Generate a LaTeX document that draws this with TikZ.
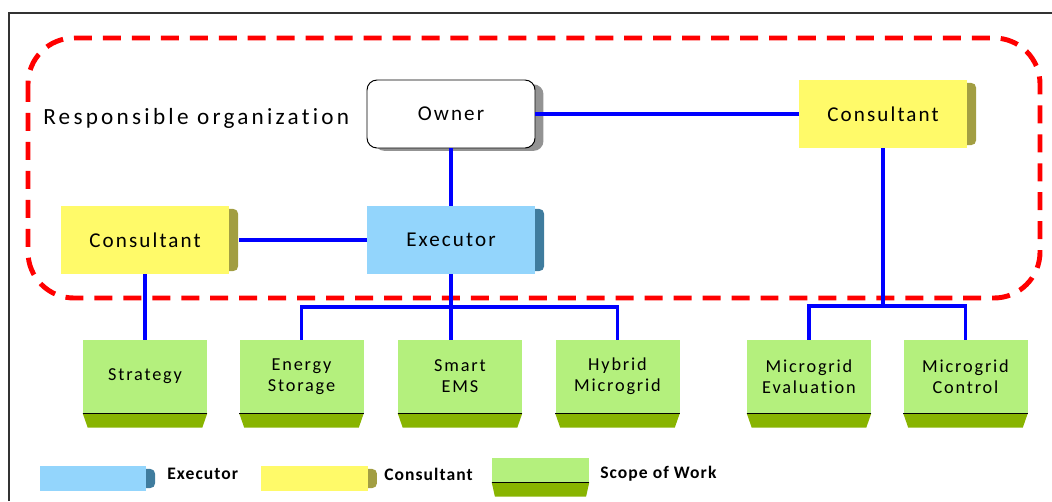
\documentclass[tikz,border=0pt]{standalone}
\usepackage{fontspec}
\setmainfont{Carlito}
\newfontfamily\widefont[LetterSpace=10, Ligatures=NoCommon]{Carlito}
\newfontfamily\titlefont[LetterSpace=14, Ligatures=NoCommon]{Carlito}
\newfontfamily\legfont[LetterSpace=6, Ligatures=NoCommon]{Carlito}
\usetikzlibrary{positioning, calc, backgrounds}
\definecolor{cexec}{HTML}{93D5FC}
\definecolor{cexecshade}{HTML}{3F7C9E}
\definecolor{ccons}{HTML}{FFFA69}
\definecolor{cconsshade}{HTML}{A29E42}
\definecolor{cwork}{HTML}{B4F07D}
\definecolor{cworkband}{HTML}{88B400}
\definecolor{cline}{HTML}{0000FF}
\definecolor{cred}{HTML}{FF0000}
\definecolor{cframe}{HTML}{333333}
\tikzset{
  orgbox/.style={fill=#1, minimum width=4.2cm, minimum height=1.7cm, inner sep=0pt, font=\widefont\fontsize{15}{18}\selectfont},
  orgbox/.default=white,
  workbox/.style={fill=cwork, minimum width=3.1cm, minimum height=1.825cm, inner sep=0pt, align=center, font=\widefont\fontsize{13}{15}\selectfont},
  link/.style={draw=cline, line width=2.8pt},
  legtext/.style={anchor=west, inner sep=0pt, font=\legfont\bfseries\fontsize{12.5}{14}\selectfont},
}

\begin{document}
\begin{tikzpicture}[zone/.style={cred, line width=3.5pt, dash pattern=on 12.8pt off 7.8pt, rounded corners=1.15cm}]
  \useasboundingbox (0,0) rectangle (26.3,-12.525);
  \draw[cframe, line width=1pt] (0.225,-12.525) -- (0.225,-0.325) -- (26.3,-0.325);
  % responsible organization
  \draw[zone] (0.7,-0.95) rectangle (26.0,-7.45);
  \node[anchor=west, inner sep=0pt, font=\titlefont\fontsize{16.5}{19}\selectfont] (resp) at (1.075,-2.95) {Responsible organization};
  \node[orgbox, draw=black, line width=0.7pt, rounded corners=0.25cm] (owner) at (11.275,-2.85) {Owner};
  \node[orgbox=ccons] (cr) at (22.075,-2.85) {Consultant};
  \node[orgbox=cexec] (exec) at (11.275,-6.0) {Executor};
  \node[orgbox=ccons] (cl) at (3.625,-6.0) {Consultant};
  % scope of work
  \foreach \n/\x/\t in {st/3.625/Strategy, es/7.5375/Energy\\Storage, ems/11.5/Smart\\EMS, hy/15.4375/Hybrid\\Microgrid, me/20.225/Microgrid\\Evaluation, mc/24.1375/Microgrid\\Control}
    \node[workbox] (\n) at (\x,-9.4125) {\t};
  % legend
  \node[orgbox=cexec, minimum width=2.65cm, minimum height=0.625cm] (legexec) at (2.325,-11.9625) {};
  \node[legtext] (legexectext) at (4.175,-11.85) {Executor};
  \node[orgbox=ccons, minimum width=2.675cm, minimum height=0.625cm] (legcons) at (7.86,-11.9625) {};
  \node[legtext] (legconstext) at (9.6,-11.85) {Consultant};
  \node[workbox, minimum width=2.425cm, minimum height=0.6cm] (legwork) at (13.5125,-11.75) {};
  \node[legtext] (legworktext) at (15.0,-11.85) {Scope of Work};
  % shading
  \begin{scope}[on background layer]
    \fill[gray!85, rounded corners=0.25cm] ([xshift=0.2cm,yshift=-0.12cm]owner.north west) rectangle ([xshift=0.2cm,yshift=-0.06cm]owner.south east);
    \foreach \n/\c in {exec/cexecshade, cl/cconsshade, cr/cconsshade, legexec/cexecshade, legcons/cconsshade}
      \fill[\c, rounded corners=0.12cm] ([xshift=-0.3cm,yshift=-0.08cm]\n.north east) rectangle ([xshift=0.22cm,yshift=0.08cm]\n.south east);
  \end{scope}
  \foreach \n/\d in {st/0.125, es/0.125, ems/0.125, hy/0.125, me/0.125, mc/0.125, legwork/0.08} {
    \fill[cworkband] (\n.south west) -- (\n.south east) -- ([xshift=-\d cm,yshift=-0.36cm]\n.south east) -- ([xshift=\d cm,yshift=-0.36cm]\n.south west) -- cycle;
    \draw[black, line width=0.6pt] (\n.south west) -- (\n.south east);
  }
  % connectors
  \coordinate (busl) at (0,-7.675);
  \coordinate (busr) at (0,-7.65);
  \draw[link] (owner.east) -- (cr.west);
  \draw[link] (owner) -- (exec);
  \draw[link] ([xshift=0.25cm]cl.east) -- (exec.west);
  \draw[link] (cl.south) -- (cl.south |- st.north);
  \draw[link] (exec.south) -- (exec.south |- ems.north);
  \draw[link] (es.north) -- (es.north |- busl) -| (hy.north);
  \draw[link] (cr.south) -- (cr.south |- busr);
  \draw[link] (me.north) -- (me.north |- busr) -| (mc.north);
\end{tikzpicture}
\end{document}
